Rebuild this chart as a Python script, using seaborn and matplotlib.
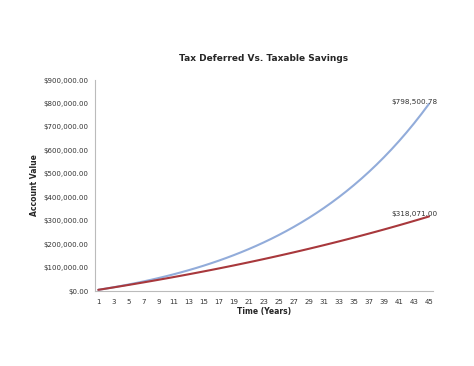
import matplotlib
matplotlib.use('Agg')
import matplotlib.pyplot as plt
import matplotlib.ticker as mticker
import pandas as pd
import seaborn as sns

# values (account value by year)
years = list(range(1, 46))
tax_deferred = [5000, 10250, 15763, 21551, 27628, 34010, 40710, 47746, 55133, 62889,
                71034, 79586, 88565, 97993, 107893, 118287, 129202, 140662, 152695, 165330,
                178596, 192526, 207152, 222510, 238635, 255567, 273346, 292013, 311614, 332194,
                353804, 376494, 400319, 425335, 451601, 479182, 508141, 538548, 570475, 603999,
                639199, 676159, 714967, 755715, 798500.78]
taxable = [5000, 10075, 15226, 20455, 25761, 31148, 36615, 42164, 47797, 53514,
           59316, 65206, 71184, 77252, 83411, 89662, 96007, 102447, 108984, 115618,
           122353, 129188, 136126, 143168, 150315, 157570, 164933, 172407, 179994, 187693,
           195509, 203441, 211493, 219665, 227960, 236380, 244926, 253599, 262403, 271339,
           280410, 289616, 298960, 308444, 318071.00]
end_labels = ['$798,500.78', '$318,071.00']

df = pd.DataFrame({'Year': years + years,
                   'Value': tax_deferred + taxable,
                   'Series': ['Tax Deferred'] * 45 + ['Taxable'] * 45})

sns.set_style('white')
plt.rcParams['font.family'] = ['DejaVu Sans']

fig = plt.figure(figsize=(4.74, 3.66), dpi=100)
ax = fig.add_axes([0.1994, 0.2049, 0.7137, 0.5765])

colors = {'Tax Deferred': '#92ACDA', 'Taxable': '#A8383C'}
sns.lineplot(data=df, x='Year', y='Value', hue='Series', palette=colors,
             linewidth=1.5, legend=False, ax=ax)

ax.set_xlim(0.5, 45.5)
ax.set_ylim(0, 900000)
ax.xaxis.set_major_locator(mticker.FixedLocator(list(range(1, 46, 2))))
ax.xaxis.set_minor_locator(mticker.FixedLocator(years))
ax.yaxis.set_major_locator(mticker.MultipleLocator(100000))
ax.yaxis.set_major_formatter(mticker.FuncFormatter(lambda v, p: '${:,.2f}'.format(v)))

for s in ['top', 'right']:
    ax.spines[s].set_visible(False)
for s in ['left', 'bottom']:
    ax.spines[s].set_color('#BBBBBB')
    ax.spines[s].set_linewidth(0.8)

ax.tick_params(axis='both', which='major', labelsize=5, colors='#BBBBBB',
               labelcolor='#333333', length=3, width=0.6, direction='out')
ax.tick_params(axis='x', which='minor', colors='#BBBBBB', length=2, width=0.5,
               direction='out')
ax.tick_params(axis='y', pad=1.5)
ax.tick_params(axis='x', pad=2.5)

ax.set_xlabel('Time (Years)', fontsize=5.5, fontweight='bold', labelpad=1.5)
ax.set_ylabel('Account Value', fontsize=5.5, fontweight='bold', labelpad=3)
ax.set_title('Tax Deferred Vs. Taxable Savings', fontsize=6.5, fontweight='bold', pad=14)

for vals, lab in zip([tax_deferred, taxable], end_labels):
    ax.annotate(lab, xy=(years[-1], vals[-1]), xytext=(8, 2),
                textcoords='offset pixels', ha='right', va='center',
                fontsize=5.2, color='#333333')

fig.savefig('out.png', dpi=100)
